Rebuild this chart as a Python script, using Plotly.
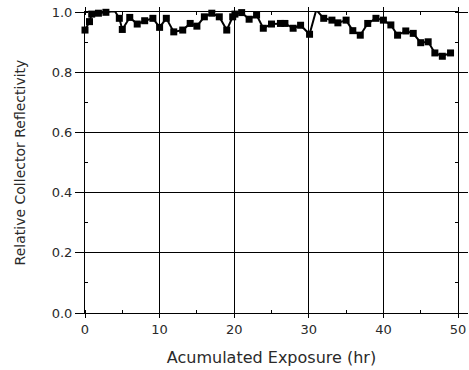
import plotly.graph_objects as go

hours = [0.0, 0.6, 0.9, 1.8, 2.8, 4.0, 4.6, 5.0, 6.0, 7.0, 8.0, 9.1, 10.0, 10.9, 11.9,
         13.1, 14.1, 15.0, 16.0, 17.0, 18.0, 19.0, 19.8, 20.1, 21.0, 22.0, 23.0, 23.9,
         25.0, 26.2, 26.8, 27.9, 28.9, 30.1, 31.0, 32.0, 33.1, 33.9, 35.0, 35.9, 36.9,
         37.9, 39.0, 40.0, 41.0, 41.9, 43.0, 44.0, 45.0, 46.0, 46.9, 47.9, 49.0]
reflectivity = [0.940, 0.968, 0.993, 0.996, 0.999, 1.003, 0.979, 0.942, 0.982, 0.960,
                0.971, 0.979, 0.949, 0.979, 0.934, 0.940, 0.962, 0.953, 0.984, 0.996,
                0.984, 0.940, 0.984, 0.993, 0.998, 0.976, 0.990, 0.946, 0.960, 0.962,
                0.962, 0.946, 0.956, 0.926, 1.007, 0.979, 0.973, 0.964, 0.973, 0.938,
                0.923, 0.962, 0.979, 0.973, 0.957, 0.923, 0.937, 0.929, 0.898, 0.901,
                0.864, 0.853, 0.864]

x_ticks = [0, 10, 20, 30, 40, 50]
y_ticks = [0.0, 0.2, 0.4, 0.6, 0.8, 1.0]
y_ticklabels = ["0.0", "0.2", "0.4", "0.6", "0.8", "1.0"]

fig = go.Figure()
fig.add_trace(go.Scatter(
    x=hours, y=reflectivity, mode="lines+markers",
    line=dict(color="black", width=2),
    marker=dict(symbol="square", size=7, color="black"),
    cliponaxis=False, showlegend=False,
))

fam = "DejaVu Sans, Liberation Sans, sans-serif"
tick_font = dict(family=fam, size=13, color="#2a2a2a")

fig.update_layout(
    width=469, height=370,
    margin=dict(l=85, r=11, t=12, b=57),
    paper_bgcolor="white", plot_bgcolor="white",
    font=tick_font,
    xaxis=dict(
        range=[0, 50], tickvals=x_ticks, ticks="outside", ticklen=4, tickcolor="black",
        tickfont=tick_font, automargin=False, ticklabeloverflow="allow",
        showline=True, linecolor="black", linewidth=1, mirror="ticks",
        showgrid=True, gridcolor="black", gridwidth=1, zeroline=False,
        minor=dict(dtick=5, ticks="inside", ticklen=3, tickcolor="black", showgrid=False),
        title=dict(text="Acumulated Exposure (hr)",
                   font=dict(family=fam, size=16, color="#2a2a2a"), standoff=16),
    ),
    yaxis=dict(
        range=[0, 1], tickvals=y_ticks, ticktext=y_ticklabels, ticks="outside", ticklen=9,
        tickcolor="black", tickfont=tick_font, automargin=False, ticklabeloverflow="allow",
        showline=True, linecolor="black", linewidth=1, mirror="ticks",
        showgrid=True, gridcolor="black", gridwidth=1, zeroline=False,
        minor=dict(dtick=0.1, ticks="inside", ticklen=3, tickcolor="black", showgrid=False),
        title=dict(text="Relative Collector Reflectivity",
                   font=dict(family=fam, size=14, color="#2a2a2a"), standoff=22),
    ),
)

fig.write_html("out.html", config={"displayModeBar": False},
               post_script="document.body.style.margin='0px';")
